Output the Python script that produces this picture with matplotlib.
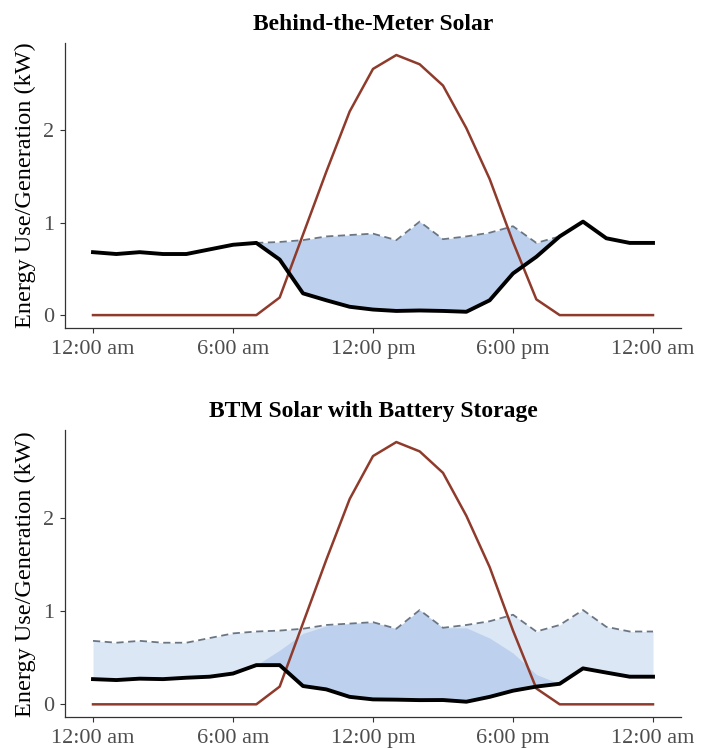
import numpy as np
import matplotlib
matplotlib.use("Agg")
import matplotlib.pyplot as plt

plt.rcParams["font.family"] = ["Liberation Serif", "DejaVu Serif"]

hours = np.arange(25)

# household load (dashed line)
load = [0.68, 0.66, 0.68, 0.66, 0.66, 0.71, 0.76, 0.78, 0.79, 0.81, 0.85, 0.865, 0.88,
        0.81, 1.01, 0.82, 0.85, 0.89, 0.96, 0.78, 0.85, 1.01, 0.83, 0.78, 0.78]

# solar generation (red line)
solar = [0, 0, 0, 0, 0, 0, 0, 0, 0.19, 0.87, 1.55, 2.20, 2.66,
         2.81, 2.71, 2.48, 2.02, 1.47, 0.79, 0.17, 0, 0, 0, 0, 0]

# grid use, solar only (black line, top)
grid_solar = [0.68, 0.66, 0.68, 0.66, 0.66, 0.71, 0.76, 0.78, 0.60, 0.235, 0.16, 0.09, 0.06,
              0.045, 0.05, 0.045, 0.036, 0.16, 0.45, 0.63, 0.85, 1.01, 0.83, 0.78, 0.78]

# grid use, solar + battery (black line, bottom)
grid_batt = [0.27, 0.26, 0.275, 0.27, 0.285, 0.296, 0.33, 0.42, 0.42, 0.196, 0.16, 0.08, 0.053,
             0.05, 0.045, 0.046, 0.028, 0.08, 0.146, 0.19, 0.22, 0.385, 0.34, 0.296, 0.296]

# upper edge of the solar-served area in the battery case (hours 7-20)
solar_hours = np.arange(7, 21)
solar_used_top = [0.42, 0.58, 0.76, 0.84, 0.865, 0.88, 0.81, 1.01, 0.82, 0.82,
                  0.71, 0.55, 0.32, 0.22]

tick_pos = [0, 6, 12, 18, 24]
tick_lab = ["12:00 am", "6:00 am", "12:00 pm", "6:00 pm", "12:00 am"]

red = "#8f3b2c"
dash_col = "#6b7685"
mid_blue = "#bdd1ee"
light_blue = "#dce7f5"

fig = plt.figure(figsize=(7.02, 7.49), dpi=100)
ax1 = fig.add_axes([0.0926, 0.562, 0.8775, 0.3806])
ax2 = fig.add_axes([0.0926, 0.0422, 0.8775, 0.3838])

load_a = np.array(load)

# top panel
ax1.fill_between(hours, load_a, grid_solar, where=load_a >= np.array(grid_solar),
                 interpolate=True, color=mid_blue, lw=0)
ax1.plot(hours, load, color=dash_col, lw=1.3, ls=(0, (4, 2.5)))
ax1.plot(hours, solar, color=red, lw=1.8)
ax1.plot(hours, grid_solar, color="black", lw=2.8)
ax1.set_title("Behind-the-Meter Solar", fontsize=17, fontweight="bold", pad=9)

# bottom panel
ax2.fill_between(hours, load, grid_batt, color=light_blue, lw=0)
ax2.fill_between(solar_hours, solar_used_top, grid_batt[7:21], color=mid_blue, lw=0)
ax2.plot(hours, load, color=dash_col, lw=1.3, ls=(0, (4, 2.5)))
ax2.plot(hours, solar, color=red, lw=1.8)
ax2.plot(hours, grid_batt, color="black", lw=2.8)
ax2.set_title("BTM Solar with Battery Storage", fontsize=17, fontweight="bold", pad=9)

for ax in (ax1, ax2):
    ax.set_xlim(-1.2, 25.2)
    ax.set_ylim(-0.14, 2.94)
    ax.set_xticks(tick_pos)
    ax.set_xticklabels(tick_lab)
    ax.set_yticks([0, 1, 2])
    ax.spines["top"].set_visible(False)
    ax.spines["right"].set_visible(False)
    for s in ("left", "bottom"):
        ax.spines[s].set_color("#333333")
        ax.spines[s].set_linewidth(0.9)
    ax.tick_params(labelsize=16, length=3.5, color="#333333", labelcolor="#4d4d4d", pad=4)
    ax.tick_params(axis="x", pad=5)
    ax.set_ylabel("Energy Use/Generation (kW)", fontsize=17.5)
    ax.yaxis.set_label_coords(-0.047, 0.5)

fig.savefig("out.png", dpi=100)
